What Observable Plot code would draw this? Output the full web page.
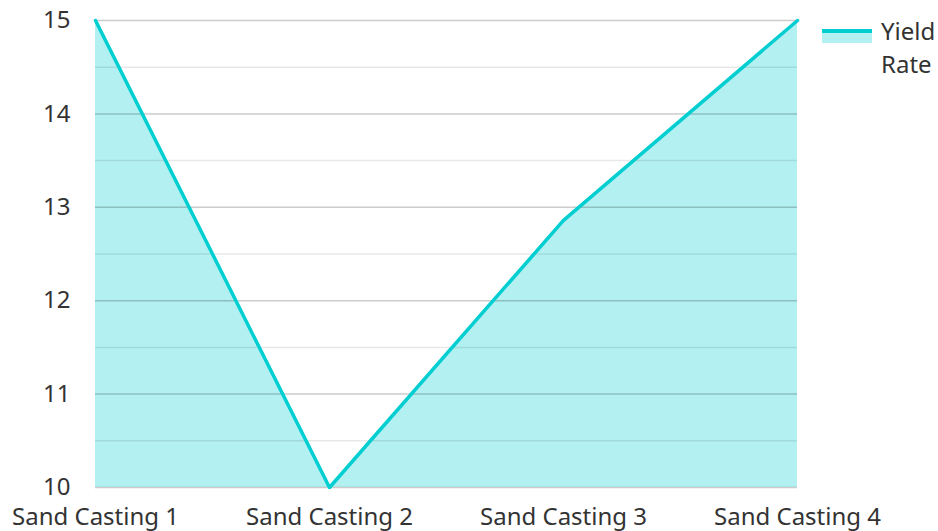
<!DOCTYPE html>
<html><head><meta charset="utf-8">
<script src="https://cdn.jsdelivr.net/npm/d3@7"></script>
<script src="https://cdn.jsdelivr.net/npm/@observablehq/plot@0.6"></script>
<style>
body{margin:0;background:#fff;font-family:"Noto Sans",sans-serif;}
#wrap{position:relative;width:938px;height:531px;}
#legend{position:absolute;left:822px;top:14px;display:flex;align-items:flex-start;color:#333;font-size:24px;line-height:33px;}
#sw{width:50px;height:14px;margin-top:15px;margin-right:9px;background:rgba(0,206,209,0.3);border-top:4px solid #00CED1;box-sizing:border-box;}
</style></head>
<body><div id="wrap"><div id="legend"><div id="sw"></div><div>Yield<br>Rate</div></div></div>
<script>
const categories = ["Sand Casting 1","Sand Casting 2","Sand Casting 3","Sand Casting 4"];
const yieldRate = [15, 10, 12.86, 15];
const majorTicks = [10, 11, 12, 13, 14, 15];
const minorTicks = [10.5, 11.5, 12.5, 13.5, 14.5];
const seriesName = "Yield Rate";
const data = categories.map((c, i) => ({cat: c, v: yieldRate[i]}));
const color = "#00CED1";
const chart = Plot.plot({
  width: 938, height: 531,
  marginTop: 20, marginBottom: 44, marginLeft: 95, marginRight: 141,
  style: {fontFamily: "Noto Sans", fontSize: "24px", color: "#333", background: "transparent"},
  x: {type: "point", domain: categories, padding: 0, label: null},
  y: {domain: [10, 15], label: null},
  marks: [
    Plot.areaY(data, {x: "cat", y1: 10, y2: "v", fill: color, fillOpacity: 0.3}),
    Plot.ruleY(minorTicks, {stroke: "#000", strokeOpacity: 0.09, strokeWidth: 1.5}),
    Plot.ruleY(majorTicks, {stroke: "#000", strokeOpacity: 0.2, strokeWidth: 1.5}),
    Plot.lineY(data, {x: "cat", y: "v", stroke: color, strokeWidth: 3.5}),
    Plot.axisX({tickSize: 0, tickPadding: 20, fill: "#333"}),
    Plot.axisY({ticks: majorTicks, tickFormat: "d", tickSize: 0, tickPadding: 25, fill: "#333"})
  ]
});
document.getElementById("wrap").prepend(chart);
</script></body></html>
